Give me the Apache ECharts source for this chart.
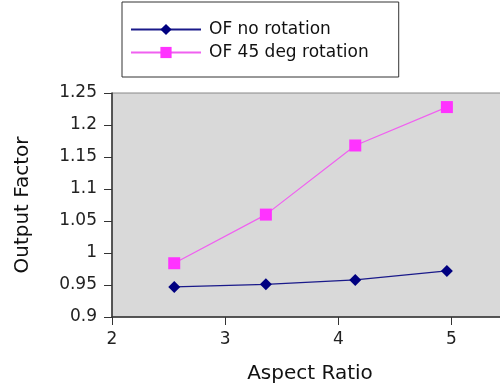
<!DOCTYPE html>
<html>
<head>
<meta charset="utf-8">
<script src="https://cdn.jsdelivr.net/npm/echarts@6/dist/echarts.min.js"></script>
<style>
  html, body { margin: 0; padding: 0; background: #fff; }
  #chart { width: 500px; height: 387px; }
</style>
</head>
<body>
<div id="chart"></div>
<script>
// Aspect ratio of the field (x) and measured output factor (y)
const aspectRatio = [2.55, 3.36, 4.15, 4.96];
const ofNoRotation = [0.947, 0.951, 0.958, 0.972];
const of45Rotation = [0.984, 1.060, 1.168, 1.228];
const seriesNames = ['OF no rotation', 'OF 45 deg rotation'];

const font = 'DejaVu Sans';
const pairs = (xs, ys) => xs.map((x, i) => [x, ys[i]]);

const chart = echarts.init(document.getElementById('chart'), null, { renderer: 'canvas' });
chart.setOption({
  animation: false,
  backgroundColor: '#ffffff',
  legend: {
    orient: 'vertical',
    left: 122,
    top: 2,
    padding: [19, 30, 16, 8],
    itemGap: 6,
    itemWidth: 70,
    itemHeight: 14,
    backgroundColor: '#ffffff',
    borderColor: '#333',
    borderWidth: 1,
    borderRadius: 0,
    textStyle: { fontFamily: font, fontSize: 17, color: '#111', padding: [0, 0, 0, 3] },
    data: seriesNames
  },
  grid: {
    left: 112,
    top: 93,
    bottom: 70,
    right: -8,
    outerBoundsMode: 'none',
    containLabel: false,
    show: true,
    backgroundColor: '#d9d9d9',
    borderColor: '#888',
    borderWidth: 1
  },
  xAxis: {
    type: 'value',
    min: 2,
    max: 5.5,
    interval: 1,
    name: 'Aspect Ratio',
    nameLocation: 'middle',
    nameGap: 47,
    nameTextStyle: { fontFamily: font, fontSize: 20, color: '#111' },
    axisLine: { onZero: false, lineStyle: { color: '#333', width: 1.5 } },
    axisTick: { show: true, length: 8, lineStyle: { color: '#333' } },
    axisLabel: { fontFamily: font, fontSize: 17, color: '#222', margin: 14, showMaxLabel: false },
    splitLine: { show: false }
  },
  yAxis: {
    type: 'value',
    min: 0.9,
    max: 1.25,
    interval: 0.05,
    name: 'Output Factor',
    nameLocation: 'middle',
    nameGap: 79,
    nameTextStyle: { fontFamily: font, fontSize: 20, color: '#111' },
    axisLine: { show: true, lineStyle: { color: '#333', width: 1.5 } },
    axisTick: { show: true, length: 8, lineStyle: { color: '#333' } },
    axisLabel: {
      fontFamily: font, fontSize: 17, color: '#222', margin: 15,
      formatter: v => String(parseFloat(v.toFixed(2)))
    },
    splitLine: { show: false }
  },
  series: [
    {
      name: seriesNames[0],
      type: 'line',
      data: pairs(aspectRatio, ofNoRotation),
      symbol: 'diamond',
      symbolSize: 12,
      itemStyle: { color: '#000080' },
      lineStyle: { color: '#1a1a8a', width: 1.2 }
    },
    {
      name: seriesNames[1],
      type: 'line',
      data: pairs(aspectRatio, of45Rotation),
      symbol: 'rect',
      symbolSize: 12,
      itemStyle: { color: '#ff33ff' },
      lineStyle: { color: '#f060f0', width: 1.2 }
    }
  ]
});
</script>
</body>
</html>
